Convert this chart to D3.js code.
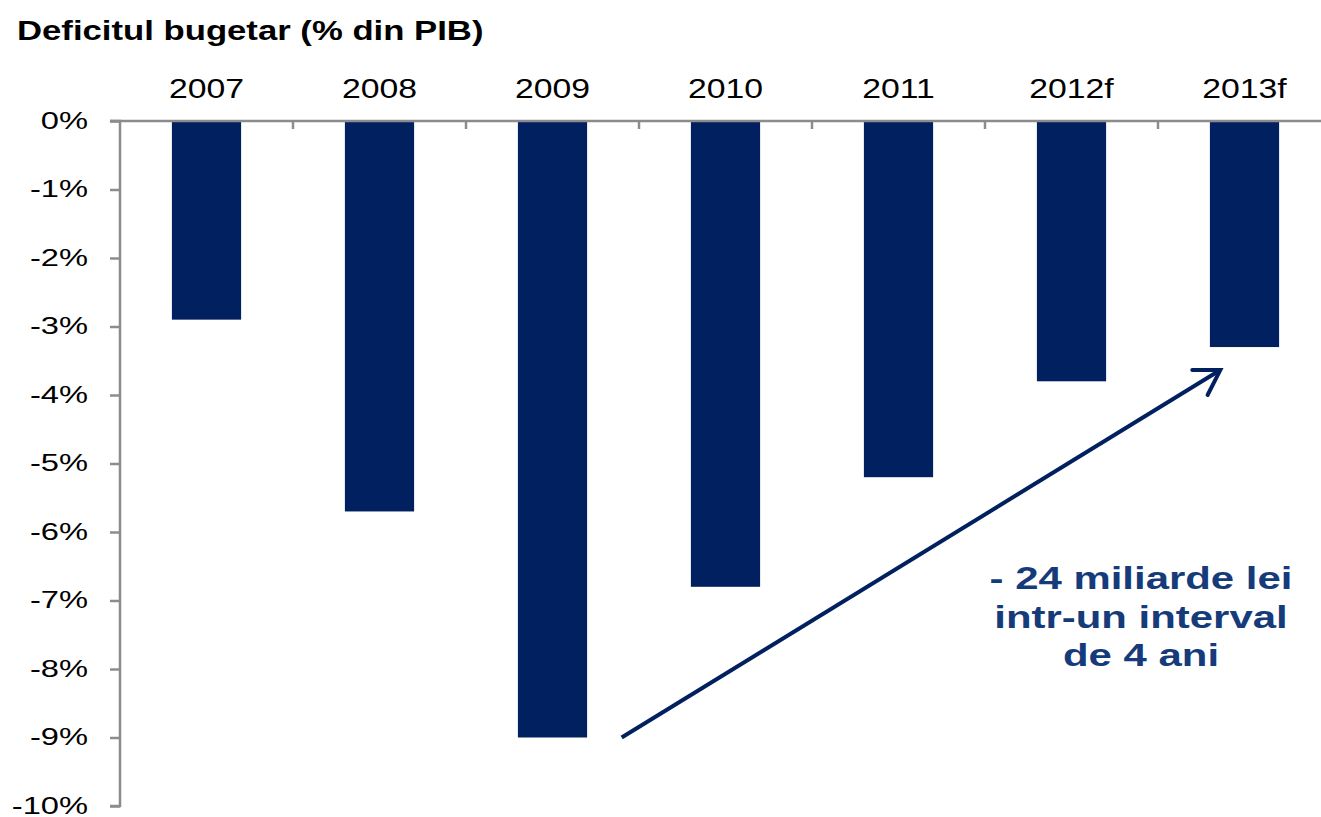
<!DOCTYPE html>
<html>
<head>
<meta charset="utf-8">
<script src="https://cdn.jsdelivr.net/npm/d3@7"></script>
<style>
  html, body { margin: 0; padding: 0; background: #ffffff; }
  svg { display: block; font-family: "Liberation Sans", Arial, sans-serif; }
</style>
</head>
<body>
<svg id="chart" width="1321" height="817"></svg>
<script>
// Budget deficit as % of GDP
const years = ["2007", "2008", "2009", "2010", "2011", "2012f", "2013f"];
const deficit = [-2.9, -5.7, -9.0, -6.8, -5.2, -3.8, -3.3];
const yTicks = [0, -1, -2, -3, -4, -5, -6, -7, -8, -9, -10];
const noteLines = ["- 24 miliarde lei", "intr-un interval", "de 4 ani"];
const arrowFrom = { year: "2009", value: -9.0 };
const arrowTo = { year: "2013f", value: -3.3 };

const W = 1321, H = 817;
const mLeft = 120, mTop = 121, plotRight = 1331, mBottom = 806;
const barColor = "#00205f";
const axisColor = "#8c8c8c";
const noteColor = "#153b7a";

const svg = d3.select("#chart");

const x = d3.scaleBand().domain(years).range([mLeft, plotRight]).paddingInner(0.6).paddingOuter(0.3);
const y = d3.scaleLinear().domain([0, -10]).range([mTop, mBottom]);

// title
svg.append("text")
  .attr("transform", "translate(17,40) scale(1.24,1)")
  .attr("font-weight", "bold").attr("font-size", 28).attr("fill", "#000")
  .text("Deficitul bugetar (% din PIB)");

// bars
svg.append("g").selectAll("rect").data(years).join("rect")
  .attr("x", d => x(d))
  .attr("width", x.bandwidth())
  .attr("y", y(0))
  .attr("height", (d, i) => y(deficit[i]) - y(0))
  .attr("fill", barColor);

// left value axis
const yAxis = svg.append("g").attr("transform", `translate(${mLeft},0)`)
  .call(d3.axisLeft(y).tickValues(yTicks).tickSize(10).tickFormat(() => ""));
yAxis.select(".domain").attr("stroke", axisColor).attr("stroke-width", 2.5).attr("d", `M-10,${mTop}H0V${mBottom}H-10`);
yAxis.selectAll(".tick line").attr("stroke", axisColor).attr("stroke-width", 2.5);

// y tick labels, right aligned
svg.append("g").selectAll("text").data(yTicks).join("text")
  .attr("transform", d => `translate(88,${y(d) + 7.5}) scale(1.42,1)`)
  .attr("text-anchor", "end").attr("font-size", 23).attr("fill", "#000")
  .text(d => d + "%");

// category axis along the zero line, ticks between categories pointing into the plot
const step = x.step();
const catEdges = d3.range(1, years.length + 1).map(i => mLeft + i * step);
const topAxis = svg.append("g");
topAxis.append("line").attr("x1", mLeft - 10).attr("x2", W).attr("y1", y(0)).attr("y2", y(0))
  .attr("stroke", axisColor).attr("stroke-width", 2.5);
topAxis.selectAll("line.tk").data(catEdges).join("line").attr("class", "tk")
  .attr("x1", d => d).attr("x2", d => d).attr("y1", y(0)).attr("y2", y(0) + 8)
  .attr("stroke", axisColor).attr("stroke-width", 2.5);

// year labels
svg.append("g").selectAll("text").data(years).join("text")
  .attr("transform", d => `translate(${x(d) + x.bandwidth() / 2},98) scale(1.25,1)`)
  .attr("text-anchor", "middle").attr("font-size", 27).attr("fill", "#000")
  .text(d => d);

// trend arrow from the 2009 bar towards the 2013 bar
const x1 = x(arrowFrom.year) + x.bandwidth() * 1.5, y1 = y(arrowFrom.value);
const x2 = x(arrowTo.year) + x.bandwidth() * 0.15, y2 = y(arrowTo.value) + 23;
svg.append("line").attr("x1", x1).attr("y1", y1).attr("x2", x2 - 2).attr("y2", y2 + 1.2)
  .attr("stroke", barColor).attr("stroke-width", 4);
const ang = Math.atan2(y2 - y1, x2 - x1);
const hl = 28, ha = 0.55;
const p1 = [x2 - hl * Math.cos(ang - ha), y2 - hl * Math.sin(ang - ha)];
const p2 = [x2 - hl * Math.cos(ang + ha), y2 - hl * Math.sin(ang + ha)];
svg.append("path")
  .attr("d", `M${p1[0]},${p1[1]}L${x2},${y2}L${p2[0]},${p2[1]}`)
  .attr("fill", "none").attr("stroke", barColor).attr("stroke-width", 4)
  .attr("stroke-linecap", "round").attr("stroke-linejoin", "miter");

// annotation
svg.append("g").selectAll("text").data(noteLines).join("text")
  .attr("transform", (d, i) => `translate(1141,${589 + i * 38.5}) scale(1.31,1)`)
  .attr("text-anchor", "middle").attr("font-weight", "bold").attr("font-size", 32)
  .attr("fill", noteColor)
  .text(d => d);
</script>
</body>
</html>
